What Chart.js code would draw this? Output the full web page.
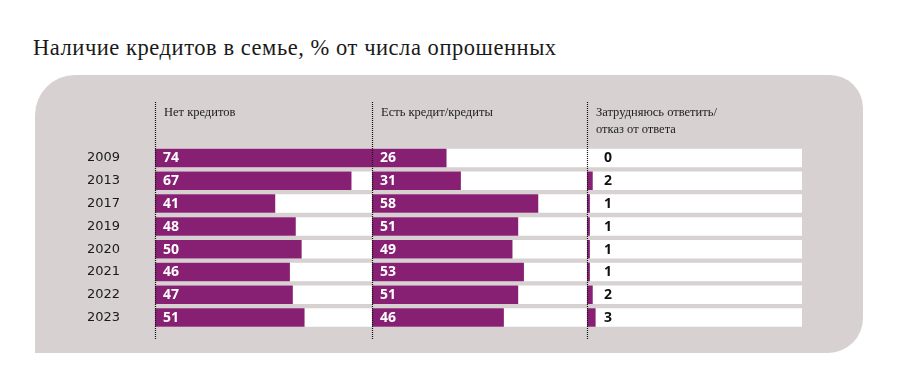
<!DOCTYPE html>
<html>
<head>
<meta charset="utf-8">
<script src="https://cdn.jsdelivr.net/npm/chart.js@4.4.0/dist/chart.umd.min.js"></script>
<style>
  html, body { margin: 0; padding: 0; background: #fff; }
  #wrap { position: relative; width: 900px; height: 385px; overflow: hidden; }
  #title { position: absolute; left: 33px; top: 37px; margin: 0; font: normal 22.5px/22px "Liberation Serif", serif; letter-spacing: 0.55px; color: #1a1a1a; white-space: nowrap; }
  #panel { position: absolute; left: 35px; top: 75px; width: 828px; height: 278px; background: #d7d1d1; border-radius: 40px 33px 35px 0; }
  #chart { position: absolute; left: 0; top: 0; }
</style>
</head>
<body>
<div id="wrap">
  <h1 id="title">Наличие кредитов в семье, % от числа опрошенных</h1>
  <div id="panel"></div>
  <canvas id="chart" width="900" height="385"></canvas>
</div>
<script>
const years = ['2009', '2013', '2017', '2019', '2020', '2021', '2022', '2023'];
const noCredit = [74, 67, 41, 48, 50, 46, 47, 51];
const hasCredit = [26, 31, 58, 51, 49, 53, 51, 46];
const noAnswer = [0, 2, 1, 1, 1, 1, 2, 3];
const groupTitles = [
  ['Нет кредитов'],
  ['Есть кредит/кредиты'],
  ['Затрудняюсь ответить/', 'отказ от ответа']
];
const axisMax = [74, 75, 75];

const purple = '#871f73';
const groups = [noCredit, hasCredit, noAnswer];

const datasets = [];
groups.forEach((vals, i) => {
  datasets.push({
    data: vals,
    xAxisID: 'x' + i,
    backgroundColor: purple,
    order: 1,
    grouped: false,
    categoryPercentage: 0.81,
    barPercentage: 1
  });
  // white track behind each bar
  datasets.push({
    data: years.map(() => axisMax[i]),
    xAxisID: 'x' + i,
    backgroundColor: '#ffffff',
    order: 2,
    grouped: false,
    categoryPercentage: 0.81,
    barPercentage: 1
  });
});

// dotted separators, headers, value labels
const overlay = {
  id: 'overlay',
  afterDatasetsDraw(chart) {
    const ctx = chart.ctx;
    ctx.save();
    for (let i = 0; i < 3; i++) {
      const sc = chart.scales['x' + i];
      const x = Math.round(sc.left) + 0.5;
      ctx.strokeStyle = '#111';
      ctx.lineWidth = 1.2;
      ctx.setLineDash([1, 1]);
      ctx.beginPath();
      ctx.moveTo(x, 102);
      ctx.lineTo(x, 339);
      ctx.stroke();
      ctx.setLineDash([]);

      ctx.fillStyle = '#222';
      ctx.font = '12.5px "Liberation Serif", serif';
      ctx.textAlign = 'left';
      ctx.textBaseline = 'alphabetic';
      groupTitles[i].forEach((t, k) => ctx.fillText(t, sc.left + 9, 116 + k * 17));

      const meta = chart.getDatasetMeta(i * 2);
      ctx.font = 'bold 14px "Open Sans", sans-serif';
      ctx.textBaseline = 'middle';
      ctx.fillStyle = i < 2 ? '#fff' : '#111';
      meta.data.forEach((bar, j) => {
        ctx.fillText(String(groups[i][j]), sc.left + (i < 2 ? 8 : 17), bar.y + 0.5);
      });
    }
    ctx.restore();
  }
};

const xScale = (i, w) => ({
  type: 'linear',
  min: 0,
  max: axisMax[i],
  display: false,
  stack: 'panels',
  stackWeight: w
});

new Chart(document.getElementById('chart'), {
  type: 'bar',
  data: { labels: years, datasets: datasets },
  options: {
    indexAxis: 'y',
    responsive: false,
    animation: false,
    devicePixelRatio: 1,
    layout: { padding: { left: 0, right: 98, top: 146.6, bottom: 56 } },
    plugins: { legend: { display: false }, tooltip: { enabled: false } },
    elements: { bar: { borderWidth: 0 } },
    scales: {
      y: {
        position: 'left',
        grid: { display: false, drawTicks: false },
        border: { display: false },
        ticks: {
          padding: 35,
          color: '#1a1a1a',
          font: { family: '"DejaVu Sans", sans-serif', size: 13 }
        },
        afterFit(s) { s.width = 155; }
      },
      x0: xScale(0, 217),
      x1: xScale(1, 215),
      x2: xScale(2, 215)
    }
  },
  plugins: [overlay]
});
</script>
</body>
</html>
